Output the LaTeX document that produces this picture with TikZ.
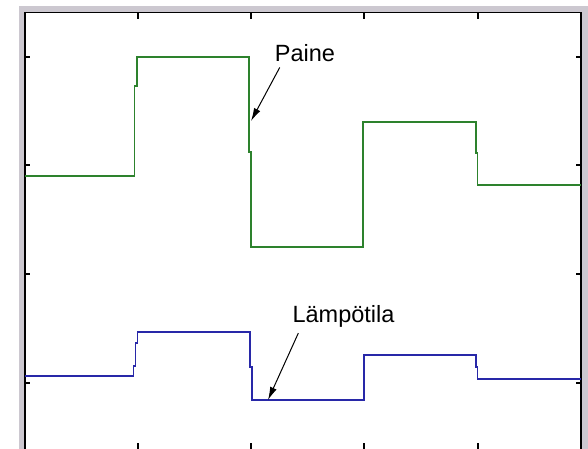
\documentclass[tikz,border=0pt]{standalone}
\usepackage{fontspec}
\setmainfont{Liberation Sans}
\usetikzlibrary{arrows.meta,positioning}
\definecolor{framegrey}{RGB}{204,200,208}
\definecolor{painegreen}{RGB}{45,130,45}
\definecolor{lampoblue}{RGB}{40,40,168}

\begin{document}
\begin{tikzpicture}[
	x=1pt, y=-1pt,
	Frame/.style={draw=black,line width=1.6pt},
	Ticks/.style={black,line width=1.6pt},
	PaineCurve/.style={draw=painegreen,line width=1.8pt},
	LampoCurve/.style={draw=lampoblue,line width=1.8pt},
	Labels/.style={font=\fontsize{23.5}{26}\selectfont,inner sep=0pt,anchor=base},
	Pointer/.style={-{Latex[length=13pt,width=7pt]},line width=1pt,black}
	]
	\useasboundingbox (0,0) rectangle (588,449);
	\fill[white] (0,0) rectangle (588,449);
	\fill[framegrey] (19,6) rectangle (588,449);
	\fill[white] (25,12.7) rectangle (581,449);
	
	% axes box, open at the bottom
	\draw[Frame] (25,452) -- (25,12.7) -- (581,12.7) -- (581,452);
	
	\foreach \tx in {138,251,364,478}
	{ \draw[Ticks] (\tx,12.7) -- ++(0,6);
	  \draw[Ticks] (\tx,449) -- ++(0,-6);
	}
	\foreach \ty in {57,165,274,383}
	{ \draw[Ticks] (25,\ty) -- ++(5,0);
	  \draw[Ticks] (581,\ty) -- ++(-5,0);
	}
	
	% pressure
	\draw[PaineCurve] (25,176) -- (134.5,176) -- (134.5,86) -- (137,86) -- (137,57)
	-- (249,57) -- (249,152) -- (251,152) -- (251,247) -- (363,247) -- (363,122)
	-- (476,122) -- (476,153) -- (477.5,153) -- (477.5,185) -- (581,185);
	
	% temperature
	\draw[LampoCurve] (25,376) -- (133.5,376) -- (133.5,366) -- (135.5,366) -- (135.5,343)
	-- (137.5,343) -- (137.5,332) -- (250,332) -- (250,367) -- (251.7,367) -- (251.7,400)
	-- (364,400) -- (364,355) -- (476,355) -- (476,367) -- (477.5,367) -- (477.5,379)
	-- (581,379);
	
	\node[Labels] (paine) at (305,62) {Paine};
	\node[Labels] (lampotila) at (343.5,322) {Lämpötila};
	
	\coordinate (paineKarki) at (251,121);
	\coordinate (lampoKarki) at (268,400);
	
	\draw[Pointer] ([shift={(5,5)}]paine.south west) -- (paineKarki);
	\draw[Pointer] ([shift={(6,6)}]lampotila.south west) -- (lampoKarki);
	
\end{tikzpicture}
\end{document}
